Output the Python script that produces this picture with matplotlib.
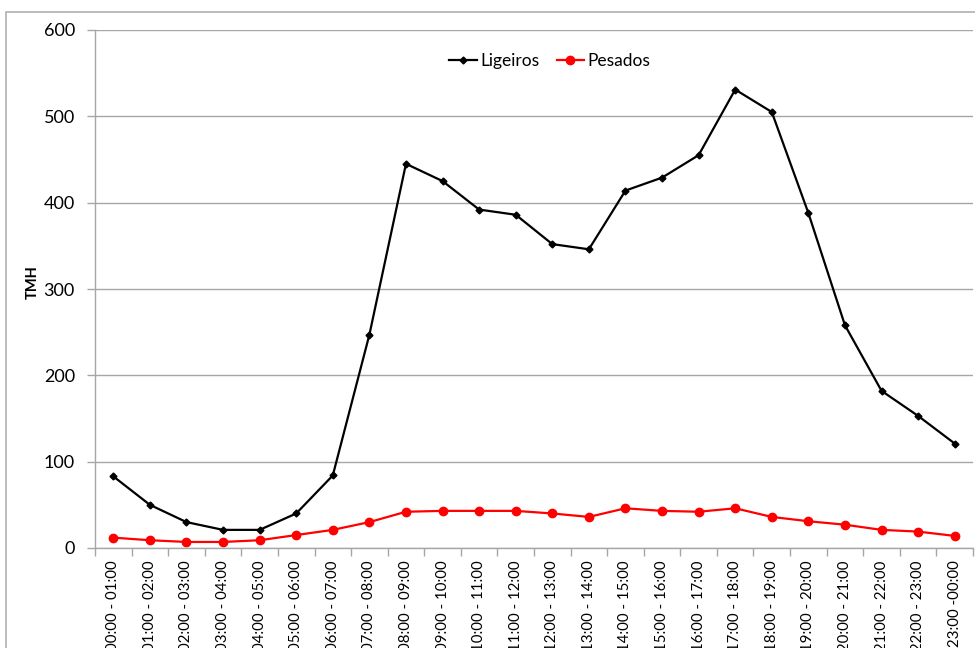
import matplotlib
matplotlib.use("Agg")
import matplotlib.pyplot as plt
from matplotlib.patches import Rectangle
import numpy as np

plt.rcParams['font.family'] = ['Lato', 'DejaVu Sans']

# hourly traffic (TMH) per vehicle class
periodos = ['00:00 - 01:00', '01:00 - 02:00', '02:00 - 03:00', '03:00 - 04:00',
            '04:00 - 05:00', '05:00 - 06:00', '06:00 - 07:00', '07:00 - 08:00',
            '08:00 - 09:00', '09:00 - 10:00', '10:00 - 11:00', '11:00 - 12:00',
            '12:00 - 13:00', '13:00 - 14:00', '14:00 - 15:00', '15:00 - 16:00',
            '16:00 - 17:00', '17:00 - 18:00', '18:00 - 19:00', '19:00 - 20:00',
            '20:00 - 21:00', '21:00 - 22:00', '22:00 - 23:00', '23:00 -00:00']
ligeiros = [83, 50, 30, 21, 21, 40, 84, 247, 445, 425, 392, 386, 352, 346,
            414, 429, 455, 531, 505, 388, 258, 182, 153, 121]
pesados = [12, 9, 7, 7, 9, 15, 21, 30, 42, 43, 43, 43, 40, 36,
           46, 43, 42, 46, 36, 31, 27, 21, 19, 14]

grid_col = '#a6a6a6'

fig = plt.figure(figsize=(9.75, 6.48), dpi=100)
fig.patches.append(Rectangle((6 / 975, -0.1), 1.1, 1 - 12 / 648 + 0.1,
                             transform=fig.transFigure, fill=False,
                             edgecolor='#b0b0b0', linewidth=1.2))

ax = fig.add_axes([95 / 975, 100 / 648, 878 / 975, 518 / 648])
x = np.arange(len(periodos))

ax.plot(x, ligeiros, color='black', lw=1.6, marker='D', ms=3.5, label='Ligeiros')
ax.plot(x, pesados, color='#ff0000', lw=1.6, marker='o', ms=6, label='Pesados')

ax.set_xlim(-0.5, len(periodos) - 0.5)
ax.set_ylim(0, 600)
ax.set_yticks(range(0, 601, 100))
ax.yaxis.grid(True, color=grid_col, lw=1)
ax.set_axisbelow(True)

# category labels between boundary ticks
ax.set_xticks(x)
ax.set_xticklabels(periodos, rotation=90, fontsize=10.8, va='top')
ax.set_xticks(np.arange(-0.5, len(periodos)), minor=True)
ax.tick_params(axis='x', which='major', length=0, pad=9)
ax.tick_params(axis='x', which='minor', length=6, color=grid_col, width=1)
ax.tick_params(axis='y', length=6, color=grid_col, width=1, labelsize=13, pad=8.5)

for side in ('top', 'right'):
    ax.spines[side].set_visible(False)
for side in ('left', 'bottom'):
    ax.spines[side].set_color(grid_col)
    ax.spines[side].set_linewidth(1)

fig.text(33 / 975, 1 - 282 / 648, 'TMH', rotation=90, fontsize=10.5,
         fontweight='bold', ha='center', va='center')

ax.legend(loc='upper center', bbox_to_anchor=(0.518, 0.985), ncol=2,
          frameon=False, fontsize=12.5, handlelength=1.6, handletextpad=0.2,
          columnspacing=1.0)

fig.savefig('out.png', dpi=100)
